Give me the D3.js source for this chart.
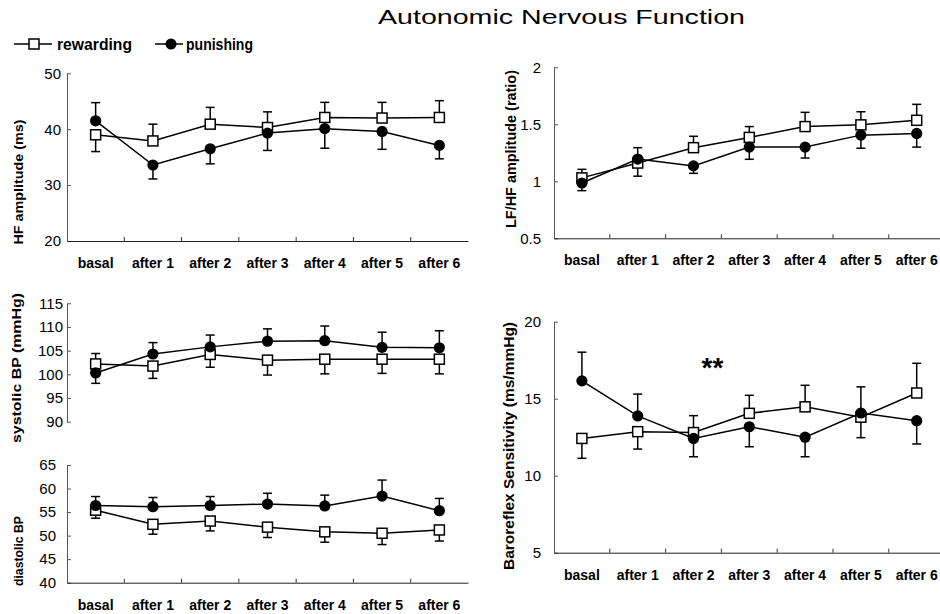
<!DOCTYPE html>
<html>
<head>
<meta charset="utf-8">
<script src="https://cdn.jsdelivr.net/npm/d3@7"></script>
<style>
  html, body { margin: 0; padding: 0; background: #fff; }
  svg { display: block; }
</style>
</head>
<body>
<svg id="chart" width="940" height="614"></svg>
<script>
// ---------------- DATA ----------------
const categories = ["basal", "after 1", "after 2", "after 3", "after 4", "after 5", "after 6"];
const seriesNames = ["rewarding", "punishing"];

// HF amplitude (ms)
const hfRewarding    = [39.0, 37.9, 40.9, 40.3, 42.1, 42.0, 42.1];
const hfRewardingSE  = [3.0, 3.0, 3.0, 2.8, 2.7, 2.8, 3.0];
const hfPunishing    = [41.5, 33.6, 36.5, 39.3, 40.1, 39.6, 37.1];
const hfPunishingSE  = [3.25, 2.5, 2.7, 3.1, 3.5, 3.2, 2.4];
const hfTicks = [20, 30, 40, 50];

// LF/HF amplitude (ratio)
const lfhfRewarding   = [1.03, 1.16, 1.295, 1.385, 1.48, 1.495, 1.535];
const lfhfRewardingSE = [0.075, 0.115, 0.10, 0.095, 0.125, 0.115, 0.14];
const lfhfPunishing   = [0.985, 1.195, 1.135, 1.30, 1.30, 1.405, 1.42];
const lfhfPunishingSE = [0.067, 0.10, 0.065, 0.107, 0.096, 0.115, 0.12];
const lfhfTicks = [0.5, 1, 1.5, 2];

// systolic BP (mmHg)
const sysRewarding   = [102.2, 101.75, 104.2, 103.0, 103.2, 103.2, 103.2];
const sysRewardingSE = [2.2, 2.6, 2.7, 3.15, 3.1, 3.0, 3.1];
const sysPunishing   = [100.3, 104.3, 105.8, 107.0, 107.1, 105.7, 105.6];
const sysPunishingSE = [2.2, 2.4, 2.5, 2.6, 3.1, 3.2, 3.6];
const sysTicks = [90, 95, 100, 105, 110, 115];

// diastolic BP
const diaRewarding   = [55.4, 52.4, 53.1, 51.8, 50.8, 50.5, 51.2];
const diaRewardingSE = [1.7, 2.1, 2.1, 2.2, 2.2, 2.4, 2.35];
const diaPunishing   = [56.4, 56.15, 56.4, 56.7, 56.3, 58.4, 55.3];
const diaPunishingSE = [1.9, 1.95, 1.9, 2.3, 2.3, 3.4, 2.6];
const diaTicks = [40, 45, 50, 55, 60, 65];

// Baroreflex Sensitivity (ms/mmHg)
const brsRewarding   = [12.42, 12.86, 12.8, 14.05, 14.47, 13.8, 15.37];
const brsRewardingSE = [1.29, 1.13, 1.1, 1.17, 1.4, 1.33, 1.93];
const brsPunishing   = [16.16, 13.88, 12.42, 13.18, 12.5, 14.07, 13.57];
const brsPunishingSE = [1.86, 1.42, 1.19, 1.3, 1.27, 1.7, 1.51];
const brsTicks = [5, 10, 15, 20];

const titleText = "Autonomic Nervous Function";
const significanceMark = "**";

// ---------------- DRAWING ----------------
const svg = d3.select("#chart");
const FONT = "'Liberation Sans', Arial, sans-serif";

svg.append("text")
  .attr("x", 378).attr("y", 24)
  .attr("font-family", FONT)
  .attr("font-size", 20)
  .attr("textLength", 367)
  .attr("lengthAdjust", "spacingAndGlyphs")
  .text(titleText);

// legend
const legend = svg.append("g");
legend.append("line").attr("x1", 14).attr("x2", 52).attr("y1", 44).attr("y2", 44)
  .attr("stroke", "#000").attr("stroke-width", 1.5);
legend.append("rect").attr("x", 29).attr("y", 39).attr("width", 10).attr("height", 10)
  .attr("fill", "#fff").attr("stroke", "#000").attr("stroke-width", 1.5);
legend.append("text").attr("x", 57).attr("y", 50).attr("font-family", FONT)
  .attr("font-size", 16).attr("font-weight", "bold")
  .attr("textLength", 75).attr("lengthAdjust", "spacingAndGlyphs").text(seriesNames[0]);
legend.append("line").attr("x1", 155).attr("x2", 183).attr("y1", 44).attr("y2", 44)
  .attr("stroke", "#000").attr("stroke-width", 1.5);
legend.append("circle").attr("cx", 171).attr("cy", 44).attr("r", 5.5).attr("fill", "#000");
legend.append("text").attr("x", 186).attr("y", 50).attr("font-family", FONT)
  .attr("font-size", 16).attr("font-weight", "bold")
  .attr("textLength", 67).attr("lengthAdjust", "spacingAndGlyphs").text(seriesNames[1]);

function drawPanel(cfg) {
  const g = svg.append("g");
  const x = d3.scaleBand().domain(categories).range(cfg.xRange);
  const y = d3.scaleLinear().domain(cfg.domain).range(cfg.yRange);
  const cx = d => x(d) + x.bandwidth() / 2;

  // y axis
  const ya = g.append("g")
    .attr("transform", `translate(${cfg.xRange[0]},0)`)
    .call(d3.axisLeft(y).tickValues(cfg.ticks).tickSize(-4).tickSizeOuter(0)
      .tickPadding(cfg.yPad).tickFormat(d3.format("~g")));
  ya.selectAll("text").attr("font-family", FONT).attr("font-size", 15).attr("fill", "#000");
  ya.select(".domain").attr("stroke", "#555");
  ya.selectAll(".tick line").attr("stroke", "#555");

  // x axis
  if (cfg.xAxis) {
    const xa = g.append("g")
      .attr("transform", `translate(0,${cfg.yRange[0]})`)
      .call(d3.axisBottom(x).tickSize(0).tickSizeOuter(0).tickPadding(17));
    xa.selectAll("text").attr("font-family", FONT).attr("font-size", 14)
      .attr("font-weight", "bold").attr("fill", "#000");
    xa.select(".domain").attr("stroke", "#222");
    g.append("g").selectAll("line")
      .data(categories.slice(1))
      .join("line")
      .attr("x1", d => x(d)).attr("x2", d => x(d))
      .attr("y1", cfg.yRange[0]).attr("y2", cfg.yRange[0] - 4)
      .attr("stroke", "#333");
  }

  // y label
  g.append("text")
    .attr("transform", `translate(${cfg.label.x},${cfg.label.y}) rotate(-90)`)
    .attr("text-anchor", "middle")
    .attr("font-family", FONT).attr("font-weight", "bold")
    .attr("font-size", cfg.label.size)
    .attr("textLength", cfg.label.len)
    .attr("lengthAdjust", "spacingAndGlyphs")
    .text(cfg.label.text);

  const [rw, rwSE, pu, puSE] = cfg.series;
  const line = d3.line().x((d, i) => cx(categories[i])).y(d => y(d));

  // error bars: the higher series gets an upward bar, the lower one a downward bar
  function errBars(vals, ses, other) {
    const eg = g.append("g");
    vals.forEach((v, i) => {
      const dir = v >= other[i] ? 1 : -1;
      const end = v + dir * ses[i];
      const px = cx(categories[i]);
      eg.append("line").attr("x1", px).attr("x2", px)
        .attr("y1", y(v)).attr("y2", y(end))
        .attr("stroke", "#000").attr("stroke-width", 1.5);
      eg.append("line").attr("x1", px - 4.5).attr("x2", px + 4.5)
        .attr("y1", y(end)).attr("y2", y(end))
        .attr("stroke", "#000").attr("stroke-width", 1.5);
    });
  }
  errBars(rw, rwSE, pu);
  errBars(pu, puSE, rw);

  g.append("path").datum(rw).attr("d", line)
    .attr("fill", "none").attr("stroke", "#000").attr("stroke-width", 1.5);
  g.append("path").datum(pu).attr("d", line)
    .attr("fill", "none").attr("stroke", "#000").attr("stroke-width", 1.5);

  g.append("g").selectAll("rect").data(rw).join("rect")
    .attr("x", (d, i) => cx(categories[i]) - 5)
    .attr("y", d => y(d) - 5)
    .attr("width", 10).attr("height", 10)
    .attr("fill", "#fff").attr("stroke", "#000").attr("stroke-width", 1.5);
  g.append("g").selectAll("circle").data(pu).join("circle")
    .attr("cx", (d, i) => cx(categories[i]))
    .attr("cy", d => y(d))
    .attr("r", 5.6).attr("fill", "#000");

  return { x, y, g };
}

drawPanel({
  xRange: [67, 468], yRange: [241, 73.3], domain: [20, 50], ticks: hfTicks,
  yPad: 6, xAxis: true,
  label: { x: 23, y: 182, text: "HF amplitude (ms)", size: 13, len: 125 },
  series: [hfRewarding, hfRewardingSE, hfPunishing, hfPunishingSE]
});

drawPanel({
  xRange: [554, 944.6], yRange: [238.3, 67.3], domain: [0.5, 2], ticks: lfhfTicks,
  yPad: 13, xAxis: true,
  label: { x: 516, y: 149, text: "LF/HF amplitude (ratio)", size: 14, len: 158 },
  series: [lfhfRewarding, lfhfRewardingSE, lfhfPunishing, lfhfPunishingSE]
});

drawPanel({
  xRange: [67, 468], yRange: [421.7, 303.3], domain: [90, 115], ticks: sysTicks,
  yPad: 4, xAxis: false,
  label: { x: 21, y: 368, text: "systolic BP  (mmHg)", size: 13, len: 150 },
  series: [sysRewarding, sysRewardingSE, sysPunishing, sysPunishingSE]
});

drawPanel({
  xRange: [67, 468], yRange: [582.7, 465], domain: [40, 65], ticks: diaTicks,
  yPad: 11, xAxis: true,
  label: { x: 23, y: 551, text: "diastolic BP", size: 13, len: 70 },
  series: [diaRewarding, diaRewardingSE, diaPunishing, diaPunishingSE]
});

const brs = drawPanel({
  xRange: [554, 944.6], yRange: [552.7, 321.7], domain: [5, 20], ticks: brsTicks,
  yPad: 13, xAxis: true,
  label: { x: 514, y: 446, text: "Baroreflex Sensitivity (ms/mmHg)", size: 14, len: 248 },
  series: [brsRewarding, brsRewardingSE, brsPunishing, brsPunishingSE]
});

// significance mark between "after 2" and "after 3"
brs.g.append("text")
  .attr("x", brs.x("after 3") - brs.x.bandwidth() * 0.16)
  .attr("y", brs.y(16.4))
  .attr("text-anchor", "middle")
  .attr("font-family", FONT).attr("font-weight", "bold").attr("font-size", 28)
  .text(significanceMark);
</script>
</body>
</html>
